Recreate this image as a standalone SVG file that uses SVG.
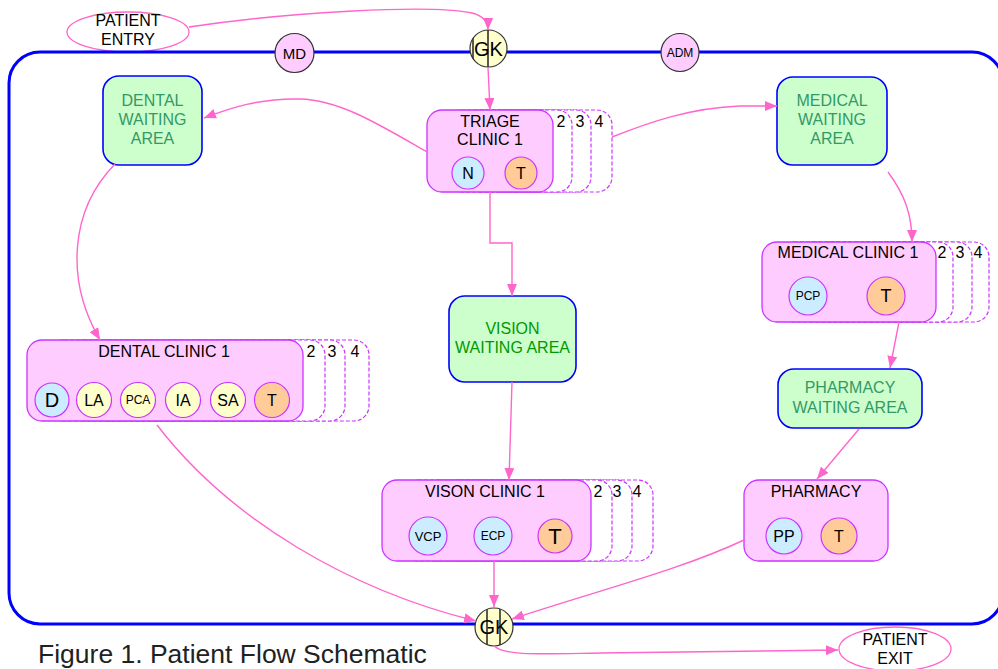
<svg xmlns="http://www.w3.org/2000/svg" width="998" height="669" viewBox="0 0 998 669">
<defs>
<marker id="arr" viewBox="0 0 12 10" refX="12" refY="5" markerWidth="12" markerHeight="10" markerUnits="userSpaceOnUse" orient="auto">
<path d="M0,0 L12,5 L0,10 Z" fill="#FF66CC"/>
</marker>
<clipPath id="gk1"><circle cx="488.5" cy="48.5" r="18.5"/></clipPath>
<clipPath id="gk2"><circle cx="494" cy="627" r="19"/></clipPath>
</defs>
<style>
text{font-family:"Liberation Sans",Arial,sans-serif;fill:#000;text-anchor:middle}
.term{fill:#fff;stroke:#FF66CC;stroke-width:1.3}
.bound{fill:none;stroke:#0000FF;stroke-width:3}
.wait{fill:#CCFFCC;stroke:#0000FF;stroke-width:1.6}
.wt{fill:#339966;font-size:16px}
.vt{fill:#009900;font-size:16px}
.clinic{fill:#FFCCFF;stroke:#CC33FF;stroke-width:1.3}
.copy{fill:#fff;stroke:#CC33FF;stroke-width:1.2;stroke-dasharray:4 2}
.ct{font-size:16px}
.num{font-size:16px}
.blue{fill:#CCECFF;stroke:#CC33FF;stroke-width:1.2}
.yel{fill:#FFFFCC;stroke:#CC33FF;stroke-width:1.2}
.org{fill:#FFCC99;stroke:#CC33FF;stroke-width:1.2}
.staff{fill:#FFCCFF;stroke:#333;stroke-width:1.2}
.gk{fill:#FFFFCC;stroke:#333;stroke-width:1.2}
.gkl{stroke:#222;stroke-width:1.5}
.conn path{fill:none;stroke:#FF66CC;stroke-width:1.4;marker-end:url(#arr)}
</style>

<g id="entry">
<ellipse class="term" cx="128" cy="32" rx="61" ry="20"/>
<text x="128" y="26" font-size="16">PATIENT</text>
<text x="128" y="45" font-size="16">ENTRY</text>
</g>

<g id="boundary">
<rect class="bound" x="9" y="52" width="994" height="572" rx="31"/>
</g>

<g id="exit">
<ellipse class="term" cx="895" cy="649" rx="56" ry="22"/>
<text x="895" y="645" font-size="16">PATIENT</text>
<text x="895" y="664" font-size="16">EXIT</text>
</g>

<g id="md">
<circle class="staff" cx="294.5" cy="53" r="19.5"/>
<text x="294.5" y="58.5" font-size="15">MD</text>
</g>

<g id="adm">
<circle class="staff" cx="680" cy="52.5" r="19"/>
<text x="680" y="57" font-size="12">ADM</text>
</g>

<g id="gk-top">
<circle class="gk" cx="488.5" cy="48.5" r="18.5"/>
<g clip-path="url(#gk1)">
<line class="gkl" x1="473" y1="28" x2="473" y2="70"/>
<line class="gkl" x1="488" y1="28" x2="488" y2="70"/>
</g>
<text x="488.5" y="56" font-size="20">GK</text>
</g>

<g id="gk-bottom">
<circle class="gk" cx="494" cy="627" r="19"/>
<g clip-path="url(#gk2)">
<line class="gkl" x1="487" y1="605" x2="487" y2="650"/>
<line class="gkl" x1="500" y1="605" x2="500" y2="650"/>
</g>
<text x="494" y="634" font-size="20">GK</text>
</g>

<g id="dental-waiting">
<rect class="wait" x="103" y="76" width="99" height="89" rx="16"/>
<text class="wt" x="152.5" y="106">DENTAL</text>
<text class="wt" x="152.5" y="125">WAITING</text>
<text class="wt" x="152.5" y="144">AREA</text>
</g>

<g id="medical-waiting">
<rect class="wait" x="777" y="77" width="110" height="88" rx="16"/>
<text class="wt" x="832" y="106">MEDICAL</text>
<text class="wt" x="832" y="125">WAITING</text>
<text class="wt" x="832" y="144">AREA</text>
</g>

<g id="vision-waiting">
<rect class="wait" x="449" y="296" width="127" height="86" rx="16"/>
<text class="vt" x="512.5" y="334">VISION</text>
<text class="vt" x="512.5" y="353">WAITING AREA</text>
</g>

<g id="pharmacy-waiting">
<rect class="wait" x="778" y="369" width="144" height="59" rx="16"/>
<text class="wt" x="850" y="393">PHARMACY</text>
<text class="wt" x="850" y="413">WAITING AREA</text>
</g>

<g id="triage">
<rect class="copy" x="486" y="110" width="126" height="82" rx="15"/>
<rect class="copy" x="465" y="110" width="126" height="82" rx="15"/>
<rect class="copy" x="446" y="110" width="126" height="82" rx="15"/>
<rect class="clinic" x="427" y="110" width="126" height="82" rx="15"/>
<text class="num" x="561" y="127">2</text>
<text class="num" x="580" y="127">3</text>
<text class="num" x="599" y="127">4</text>
<text class="ct" x="490" y="127">TRIAGE</text>
<text class="ct" x="490" y="145">CLINIC 1</text>
<circle class="blue" cx="468" cy="173" r="16"/>
<text x="468" y="179" font-size="16">N</text>
<circle class="org" cx="521" cy="173" r="16"/>
<text x="521" y="179" font-size="16">T</text>
</g>

<g id="dental-clinic">
<rect class="copy" x="93" y="340" width="276" height="81" rx="15"/>
<rect class="copy" x="69" y="340" width="276" height="81" rx="15"/>
<rect class="copy" x="49" y="340" width="276" height="81" rx="15"/>
<rect class="clinic" x="27" y="340" width="276" height="81" rx="15"/>
<text class="num" x="311" y="357">2</text>
<text class="num" x="332" y="357">3</text>
<text class="num" x="355" y="357">4</text>
<text class="ct" x="164" y="357">DENTAL CLINIC 1</text>
<circle class="blue" cx="52" cy="400" r="17"/>
<text x="52" y="407" font-size="20">D</text>
<circle class="yel" cx="94" cy="400" r="17.5"/>
<text x="94" y="406" font-size="16">LA</text>
<circle class="yel" cx="138" cy="400" r="17.5"/>
<text x="138" y="404" font-size="12">PCA</text>
<circle class="yel" cx="183" cy="400" r="17.5"/>
<text x="183" y="406" font-size="16">IA</text>
<circle class="yel" cx="228" cy="400" r="17.5"/>
<text x="228" y="406" font-size="16">SA</text>
<circle class="org" cx="272" cy="400" r="17.5"/>
<text x="272" y="406" font-size="16">T</text>
</g>

<g id="vision-clinic">
<rect class="copy" x="444" y="480" width="209" height="81" rx="15"/>
<rect class="copy" x="423" y="480" width="209" height="81" rx="15"/>
<rect class="copy" x="403" y="480" width="209" height="81" rx="15"/>
<rect class="clinic" x="382" y="480" width="209" height="81" rx="15"/>
<text class="num" x="598" y="497">2</text>
<text class="num" x="617" y="497">3</text>
<text class="num" x="637" y="497">4</text>
<text class="ct" x="485" y="497">VISON CLINIC 1</text>
<circle class="blue" cx="428" cy="536" r="19"/>
<text x="428" y="540.5" font-size="13">VCP</text>
<circle class="blue" cx="493" cy="536" r="19"/>
<text x="493" y="540" font-size="12">ECP</text>
<circle class="org" cx="555" cy="536" r="17"/>
<text x="555" y="544" font-size="22">T</text>
</g>

<g id="medical-clinic">
<rect class="copy" x="815" y="242" width="174" height="80" rx="15"/>
<rect class="copy" x="798" y="242" width="174" height="80" rx="15"/>
<rect class="copy" x="779" y="242" width="174" height="80" rx="15"/>
<rect class="clinic" x="762" y="242" width="174" height="80" rx="15"/>
<text class="num" x="942" y="258">2</text>
<text class="num" x="960" y="258">3</text>
<text class="num" x="978" y="258">4</text>
<text class="ct" x="848" y="258">MEDICAL CLINIC 1</text>
<circle class="blue" cx="808" cy="296" r="19"/>
<text x="808" y="300" font-size="12">PCP</text>
<circle class="org" cx="886" cy="296" r="19"/>
<text x="886" y="302" font-size="18">T</text>
</g>

<g id="pharmacy">
<rect class="clinic" x="744" y="480" width="144" height="81" rx="15"/>
<text class="ct" x="816" y="497">PHARMACY</text>
<circle class="blue" cx="784" cy="536" r="18"/>
<text x="784" y="542" font-size="16">PP</text>
<circle class="org" cx="839" cy="536" r="18"/>
<text x="839" y="542" font-size="16">T</text>
</g>

<g id="connectors" class="conn">
<path d="M189,27 C290,12 430,4 472,13 Q488,17 488,30"/>
<path d="M488,67 L490,110"/>
<path d="M427,152 C380,125 340,100 300,99 C260,98 230,108 204,118"/>
<path d="M612,137 C650,122 690,108 740,106 L777,106"/>
<path d="M490,192 L490,243 L512,243 L512,296"/>
<path d="M115,164 C70,210 65,280 100,340"/>
<path d="M888,172 C905,195 912,215 912,242"/>
<path d="M899,322 L890,368"/>
<path d="M859,429 L817,479"/>
<path d="M512,382 L509,480"/>
<path d="M494,561 L494,607"/>
<path d="M157,425 C230,520 350,590 476,621"/>
<path d="M744,540 C680,570 600,590 512,619"/>
<path d="M494,646 C505,656 540,654 600,653 L838,650"/>
</g>

<g id="caption">
<text x="38" y="663" font-size="26.5" style="text-anchor:start;fill:#222">Figure 1. Patient Flow Schematic</text>
</g>
</svg>
